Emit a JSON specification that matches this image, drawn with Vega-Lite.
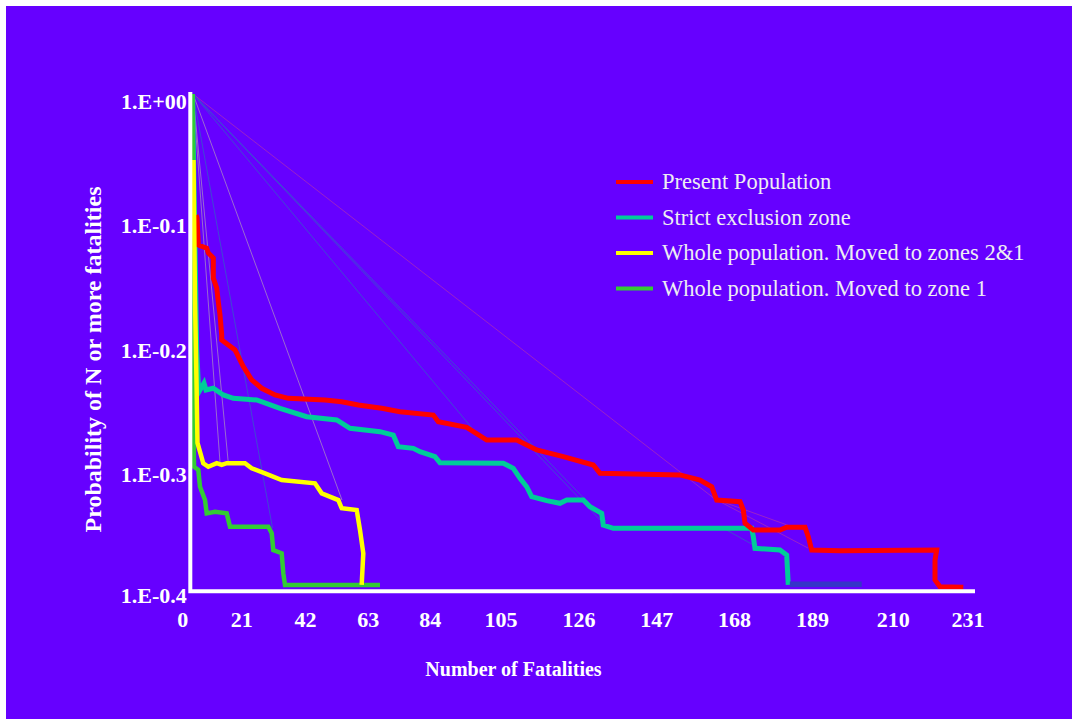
{
  "$schema": "https://vega.github.io/schema/vega-lite/v6.json",
  "width": 1066,
  "height": 713,
  "autosize": {"type": "none"},
  "padding": {"left": 6, "top": 6, "right": 0, "bottom": 0},
  "background": "#FFFFFF",
  "config": {
    "view": {"fill": "#6600FF", "stroke": null},
    "font": "Liberation Serif",
    "legend": {
      "orient": "none",
      "legendX": 608,
      "legendY": 165,
      "padding": 0,
      "symbolType": "stroke",
      "symbolSize": 1369,
      "symbolStrokeWidth": 4,
      "labelFont": "Liberation Serif",
      "labelFontSize": 22.5,
      "labelColor": "#EEEEF2",
      "labelOffset": 7,
      "labelLimit": 700,
      "clipHeight": 22,
      "rowPadding": 12.5
    }
  },
  "datasets": {
    "curves": [
      {"series": "Present Population", "n": 1.69, "logp": -0.0973},
      {"series": "Present Population", "n": 1.99, "logp": -0.0997},
      {"series": "Present Population", "n": 2.37, "logp": -0.1215},
      {"series": "Present Population", "n": 4.86, "logp": -0.1241},
      {"series": "Present Population", "n": 5.34, "logp": -0.1279},
      {"series": "Present Population", "n": 6.82, "logp": -0.1319},
      {"series": "Present Population", "n": 6.82, "logp": -0.148},
      {"series": "Present Population", "n": 7.83, "logp": -0.156},
      {"series": "Present Population", "n": 8.3, "logp": -0.1673},
      {"series": "Present Population", "n": 8.8, "logp": -0.1778},
      {"series": "Present Population", "n": 9.31, "logp": -0.1938},
      {"series": "Present Population", "n": 9.31, "logp": -0.1979},
      {"series": "Present Population", "n": 13.25, "logp": -0.2059},
      {"series": "Present Population", "n": 15.71, "logp": -0.2193},
      {"series": "Present Population", "n": 18.2, "logp": -0.23},
      {"series": "Present Population", "n": 21.16, "logp": -0.2367},
      {"series": "Present Population", "n": 25.11, "logp": -0.2421},
      {"series": "Present Population", "n": 29.05, "logp": -0.2448},
      {"series": "Present Population", "n": 39.93, "logp": -0.2461},
      {"series": "Present Population", "n": 44.88, "logp": -0.2475},
      {"series": "Present Population", "n": 49.8, "logp": -0.2501},
      {"series": "Present Population", "n": 56.73, "logp": -0.2528},
      {"series": "Present Population", "n": 62.16, "logp": -0.2555},
      {"series": "Present Population", "n": 72.03, "logp": -0.2582},
      {"series": "Present Population", "n": 73.51, "logp": -0.2636},
      {"series": "Present Population", "n": 81.93, "logp": -0.2681},
      {"series": "Present Population", "n": 87.86, "logp": -0.2783},
      {"series": "Present Population", "n": 96.75, "logp": -0.2783},
      {"series": "Present Population", "n": 102.68, "logp": -0.2863},
      {"series": "Present Population", "n": 110.56, "logp": -0.2917},
      {"series": "Present Population", "n": 119.45, "logp": -0.2984},
      {"series": "Present Population", "n": 121.44, "logp": -0.3051},
      {"series": "Present Population", "n": 145.15, "logp": -0.3064},
      {"series": "Present Population", "n": 151.08, "logp": -0.3105},
      {"series": "Present Population", "n": 154.55, "logp": -0.3159},
      {"series": "Present Population", "n": 156.03, "logp": -0.3266},
      {"series": "Present Population", "n": 162.94, "logp": -0.3279},
      {"series": "Present Population", "n": 163.92, "logp": -0.3346},
      {"series": "Present Population", "n": 164.42, "logp": -0.3453},
      {"series": "Present Population", "n": 166.88, "logp": -0.3507},
      {"series": "Present Population", "n": 174.79, "logp": -0.3507},
      {"series": "Present Population", "n": 176.78, "logp": -0.3485},
      {"series": "Present Population", "n": 182.2, "logp": -0.3485},
      {"series": "Present Population", "n": 183.18, "logp": -0.3561},
      {"series": "Present Population", "n": 184.19, "logp": -0.3668},
      {"series": "Present Population", "n": 192.58, "logp": -0.3673},
      {"series": "Present Population", "n": 221.24, "logp": -0.3668},
      {"series": "Present Population", "n": 220.74, "logp": -0.3748},
      {"series": "Present Population", "n": 220.74, "logp": -0.3909},
      {"series": "Present Population", "n": 222.22, "logp": -0.3963},
      {"series": "Present Population", "n": 229.13, "logp": -0.3968},

      {"series": "Strict exclusion zone", "n": 0.65, "logp": 0},
      {"series": "Strict exclusion zone", "n": 1.9, "logp": -0.2059},
      {"series": "Strict exclusion zone", "n": 2.37, "logp": -0.2327},
      {"series": "Strict exclusion zone", "n": 2.88, "logp": -0.2381},
      {"series": "Strict exclusion zone", "n": 4.06, "logp": -0.2325},
      {"series": "Strict exclusion zone", "n": 4.65, "logp": -0.2381},
      {"series": "Strict exclusion zone", "n": 6.82, "logp": -0.2367},
      {"series": "Strict exclusion zone", "n": 9.78, "logp": -0.2421},
      {"series": "Strict exclusion zone", "n": 12.75, "logp": -0.2448},
      {"series": "Strict exclusion zone", "n": 19.68, "logp": -0.2461},
      {"series": "Strict exclusion zone", "n": 26.59, "logp": -0.2528},
      {"series": "Strict exclusion zone", "n": 34.5, "logp": -0.2596},
      {"series": "Strict exclusion zone", "n": 43.39, "logp": -0.2622},
      {"series": "Strict exclusion zone", "n": 47.34, "logp": -0.2689},
      {"series": "Strict exclusion zone", "n": 56.23, "logp": -0.2716},
      {"series": "Strict exclusion zone", "n": 60.17, "logp": -0.2743},
      {"series": "Strict exclusion zone", "n": 61.65, "logp": -0.2837},
      {"series": "Strict exclusion zone", "n": 66.1, "logp": -0.285},
      {"series": "Strict exclusion zone", "n": 68.08, "logp": -0.2877},
      {"series": "Strict exclusion zone", "n": 72.53, "logp": -0.2917},
      {"series": "Strict exclusion zone", "n": 74.01, "logp": -0.2966},
      {"series": "Strict exclusion zone", "n": 92.78, "logp": -0.297},
      {"series": "Strict exclusion zone", "n": 95.74, "logp": -0.3011},
      {"series": "Strict exclusion zone", "n": 97.73, "logp": -0.3091},
      {"series": "Strict exclusion zone", "n": 99.71, "logp": -0.3159},
      {"series": "Strict exclusion zone", "n": 101.19, "logp": -0.3239},
      {"series": "Strict exclusion zone", "n": 105.64, "logp": -0.3271},
      {"series": "Strict exclusion zone", "n": 109.58, "logp": -0.3292},
      {"series": "Strict exclusion zone", "n": 111.57, "logp": -0.3266},
      {"series": "Strict exclusion zone", "n": 116.49, "logp": -0.3266},
      {"series": "Strict exclusion zone", "n": 118.48, "logp": -0.332},
      {"series": "Strict exclusion zone", "n": 121.94, "logp": -0.3373},
      {"series": "Strict exclusion zone", "n": 122.42, "logp": -0.3467},
      {"series": "Strict exclusion zone", "n": 125.38, "logp": -0.3493},
      {"series": "Strict exclusion zone", "n": 166.4, "logp": -0.3493},
      {"series": "Strict exclusion zone", "n": 166.88, "logp": -0.3561},
      {"series": "Strict exclusion zone", "n": 167.38, "logp": -0.3654},
      {"series": "Strict exclusion zone", "n": 174.79, "logp": -0.3668},
      {"series": "Strict exclusion zone", "n": 176.78, "logp": -0.3708},
      {"series": "Strict exclusion zone", "n": 177.25, "logp": -0.3949},

      {"series": "Whole population. Moved to zones 2&1", "n": 0.95, "logp": -0.0531},
      {"series": "Whole population. Moved to zones 2&1", "n": 1.39, "logp": -0.1657},
      {"series": "Whole population. Moved to zones 2&1", "n": 1.84, "logp": -0.2325},
      {"series": "Whole population. Moved to zones 2&1", "n": 2.13, "logp": -0.2807},
      {"series": "Whole population. Moved to zones 2&1", "n": 3.85, "logp": -0.297},
      {"series": "Whole population. Moved to zones 2&1", "n": 5.34, "logp": -0.2998},
      {"series": "Whole population. Moved to zones 2&1", "n": 7.83, "logp": -0.297},
      {"series": "Whole population. Moved to zones 2&1", "n": 9.31, "logp": -0.2984},
      {"series": "Whole population. Moved to zones 2&1", "n": 10.79, "logp": -0.297},
      {"series": "Whole population. Moved to zones 2&1", "n": 16.21, "logp": -0.297},
      {"series": "Whole population. Moved to zones 2&1", "n": 18.2, "logp": -0.3011},
      {"series": "Whole population. Moved to zones 2&1", "n": 22.14, "logp": -0.3051},
      {"series": "Whole population. Moved to zones 2&1", "n": 27.09, "logp": -0.3105},
      {"series": "Whole population. Moved to zones 2&1", "n": 36.96, "logp": -0.3131},
      {"series": "Whole population. Moved to zones 2&1", "n": 38.95, "logp": -0.3212},
      {"series": "Whole population. Moved to zones 2&1", "n": 43.87, "logp": -0.3266},
      {"series": "Whole population. Moved to zones 2&1", "n": 44.88, "logp": -0.3332},
      {"series": "Whole population. Moved to zones 2&1", "n": 49.32, "logp": -0.3346},
      {"series": "Whole population. Moved to zones 2&1", "n": 50.3, "logp": -0.3507},
      {"series": "Whole population. Moved to zones 2&1", "n": 51.28, "logp": -0.3694},
      {"series": "Whole population. Moved to zones 2&1", "n": 50.8, "logp": -0.3949},

      {"series": "Whole population. Moved to zone 1", "n": 0.65, "logp": 0},
      {"series": "Whole population. Moved to zone 1", "n": 0.8, "logp": -0.0531},
      {"series": "Whole population. Moved to zone 1", "n": 0.89, "logp": -0.2381},
      {"series": "Whole population. Moved to zone 1", "n": 1.1, "logp": -0.2998},
      {"series": "Whole population. Moved to zone 1", "n": 2.37, "logp": -0.3024},
      {"series": "Whole population. Moved to zone 1", "n": 2.88, "logp": -0.3159},
      {"series": "Whole population. Moved to zone 1", "n": 4.36, "logp": -0.3266},
      {"series": "Whole population. Moved to zone 1", "n": 4.86, "logp": -0.3373},
      {"series": "Whole population. Moved to zone 1", "n": 7.32, "logp": -0.336},
      {"series": "Whole population. Moved to zone 1", "n": 10.79, "logp": -0.3373},
      {"series": "Whole population. Moved to zone 1", "n": 11.77, "logp": -0.348},
      {"series": "Whole population. Moved to zone 1", "n": 23.12, "logp": -0.348},
      {"series": "Whole population. Moved to zone 1", "n": 24.13, "logp": -0.3533},
      {"series": "Whole population. Moved to zone 1", "n": 24.6, "logp": -0.3668},
      {"series": "Whole population. Moved to zone 1", "n": 27.09, "logp": -0.3694},
      {"series": "Whole population. Moved to zone 1", "n": 27.57, "logp": -0.3855},
      {"series": "Whole population. Moved to zone 1", "n": 28.07, "logp": -0.3949},
      {"series": "Whole population. Moved to zone 1", "n": 56.23, "logp": -0.3949},

      {"series": "tail", "n": 177.71, "logp": -0.3944},
      {"series": "tail", "n": 199.01, "logp": -0.3944}
    ],
    "fans": [
      {"fan": "R1", "grp": "r", "n": 0.8, "logp": 0},
      {"fan": "R1", "grp": "r", "n": 155.53, "logp": -0.3258},
      {"fan": "R1", "grp": "r", "n": 183.09, "logp": -0.3652},
      {"fan": "R2", "grp": "r", "n": 155.53, "logp": -0.3258},
      {"fan": "R2", "grp": "r", "n": 177.78, "logp": -0.3475},
      {"fan": "B1", "grp": "b", "n": 0.8, "logp": 0},
      {"fan": "B1", "grp": "b", "n": 122.33, "logp": -0.3451},
      {"fan": "B1b", "grp": "b", "n": 0.8, "logp": 0},
      {"fan": "B1b", "grp": "b", "n": 123.22, "logp": -0.3435},
      {"fan": "B2", "grp": "b", "n": 0.8, "logp": 0},
      {"fan": "B2", "grp": "b", "n": 86.46, "logp": -0.2783},
      {"fan": "B3", "grp": "b", "n": 157.9, "logp": -0.3491},
      {"fan": "B3", "grp": "b", "n": 167.98, "logp": -0.3644},
      {"fan": "G1", "grp": "b", "n": 0.8, "logp": 0},
      {"fan": "G1", "grp": "b", "n": 24.37, "logp": -0.3491},
      {"fan": "Y1", "grp": "y", "n": 0.8, "logp": 0},
      {"fan": "Y1", "grp": "y", "n": 8.8, "logp": -0.296},
      {"fan": "Y2", "grp": "y", "n": 0.8, "logp": 0},
      {"fan": "Y2", "grp": "y", "n": 11.32, "logp": -0.2984},
      {"fan": "Y3", "grp": "y", "n": 0.8, "logp": 0},
      {"fan": "Y3", "grp": "y", "n": 44.97, "logp": -0.3266}
    ],
    "frame": [
      {"n": 0, "logp": 0},
      {"n": 0, "logp": -0.4},
      {"n": 232, "logp": -0.4}
    ]
  },
  "encoding": {
    "x": {
      "field": "n",
      "type": "quantitative",
      "scale": {"domain": [-54.63, 261.35], "nice": false, "zero": false},
      "axis": {
        "orient": "bottom",
        "offset": -127.7,
        "domain": false,
        "ticks": false,
        "tickSize": 0,
        "grid": false,
        "values": [0, 21, 42, 63, 84, 105, 126, 147, 168, 189, 210, 231],
        "labelFont": "Liberation Serif",
        "labelFontSize": 22,
        "labelFontWeight": "bold",
        "labelColor": "#FFFFFF",
        "labelBaseline": "alphabetic",
        "labelPadding": 35.5,
        "labelFlush": false,
        "labelOverlap": false,
        "labelBound": false,
        "labelOffset": {
          "condition": [
            {"test": "datum.value == 0", "value": -8},
            {"test": "datum.value == 21", "value": -20},
            {"test": "datum.value == 42", "value": -27},
            {"test": "datum.value == 63", "value": -35},
            {"test": "datum.value == 84", "value": -44},
            {"test": "datum.value == 105", "value": -44},
            {"test": "datum.value == 126", "value": -37},
            {"test": "datum.value == 147", "value": -30},
            {"test": "datum.value == 168", "value": -23},
            {"test": "datum.value == 189", "value": -16},
            {"test": "datum.value == 210", "value": -6}
          ],
          "value": -2
        },
        "title": "Number of Fatalities",
        "titleFont": "Liberation Serif",
        "titleFontSize": 20,
        "titleFontWeight": "bold",
        "titleColor": "#FFFFFF",
        "titleX": 507,
        "titleY": 83.7,
        "titleBaseline": "alphabetic",
        "titleAlign": "center"
      }
    },
    "y": {
      "field": "logp",
      "type": "quantitative",
      "scale": {"domain": [-0.50271, 0.07078], "nice": false, "zero": false},
      "axis": {
        "orient": "left",
        "offset": -184.3,
        "domain": false,
        "ticks": false,
        "tickSize": 0,
        "grid": false,
        "values": [0, -0.1, -0.2, -0.3, -0.4],
        "labelExpr": "datum.value == 0 ? '1.E+00' : '1.E-0.' + round(-datum.value*10)",
        "labelFont": "Liberation Serif",
        "labelFontSize": 22,
        "labelFontWeight": "bold",
        "labelColor": "#FFFFFF",
        "labelPadding": 4,
        "labelOffset": {
          "condition": {"test": "datum.value < -0.35", "value": 4},
          "value": 7.5
        },
        "labelBaseline": "middle",
        "labelFlush": false,
        "labelOverlap": false,
        "labelBound": false,
        "title": "Probability of N or more fatalities",
        "titleFont": "Liberation Serif",
        "titleFontSize": 24,
        "titleFontWeight": "bold",
        "titleColor": "#FFFFFF",
        "titleAngle": 270,
        "titleX": -85,
        "titleY": 353,
        "titleBaseline": "bottom",
        "titleAlign": "center"
      }
    }
  },
  "layer": [
    {
      "data": {"name": "fans"},
      "transform": [{"filter": "datum.grp === 'r'"}],
      "mark": {"type": "line", "color": "#9A22C8", "strokeWidth": 1},
      "encoding": {"detail": {"field": "fan"}, "order": {"value": null}}
    },
    {
      "data": {"name": "fans"},
      "transform": [{"filter": "datum.grp === 'b'"}],
      "mark": {"type": "line", "color": "#4048D4", "strokeWidth": 1},
      "encoding": {"detail": {"field": "fan"}, "order": {"value": null}}
    },
    {
      "data": {"name": "fans"},
      "transform": [{"filter": "datum.grp === 'y'"}],
      "mark": {"type": "line", "color": "#9A6AD0", "strokeWidth": 1},
      "encoding": {"detail": {"field": "fan"}, "order": {"value": null}}
    },
    {
      "data": {"name": "curves"},
      "transform": [{"filter": "datum.series === 'Strict exclusion zone'"}],
      "mark": {"type": "line", "strokeWidth": 5},
      "encoding": {
        "color": {
          "field": "series",
          "type": "nominal",
          "scale": {
            "domain": ["Present Population", "Strict exclusion zone", "Whole population. Moved to zones 2&1", "Whole population. Moved to zone 1"],
            "range": ["#FF0000", "#00CC99", "#FFFF00", "#33CC33"]
          },
          "legend": {"title": null}
        },
        "order": {"value": null}
      }
    },
    {
      "data": {"name": "curves"},
      "transform": [{"filter": "datum.series === 'Present Population'"}],
      "mark": {"type": "line", "strokeWidth": 5},
      "encoding": {
        "color": {"field": "series", "type": "nominal", "legend": {"title": null}},
        "order": {"value": null}
      }
    },
    {
      "data": {"name": "curves"},
      "transform": [{"filter": "datum.series === 'tail'"}],
      "mark": {"type": "line", "strokeWidth": 5.5, "color": "#3535C8"},
      "encoding": {"order": {"value": null}}
    },
    {
      "data": {"name": "curves"},
      "transform": [{"filter": "datum.series === 'Whole population. Moved to zone 1'"}],
      "mark": {"type": "line", "strokeWidth": 4.5},
      "encoding": {
        "color": {"field": "series", "type": "nominal", "legend": {"title": null}},
        "order": {"value": null}
      }
    },
    {
      "data": {"name": "curves"},
      "transform": [{"filter": "datum.series === 'Whole population. Moved to zones 2&1'"}],
      "mark": {"type": "line", "strokeWidth": 4.5},
      "encoding": {
        "color": {"field": "series", "type": "nominal", "legend": {"title": null}},
        "order": {"value": null}
      }
    },
    {
      "data": {"name": "frame"},
      "mark": {"type": "line", "color": "#FFFFFF", "strokeWidth": 4, "strokeCap": "square", "strokeJoin": "miter"},
      "encoding": {"order": {"value": null}}
    }
  ]
}
